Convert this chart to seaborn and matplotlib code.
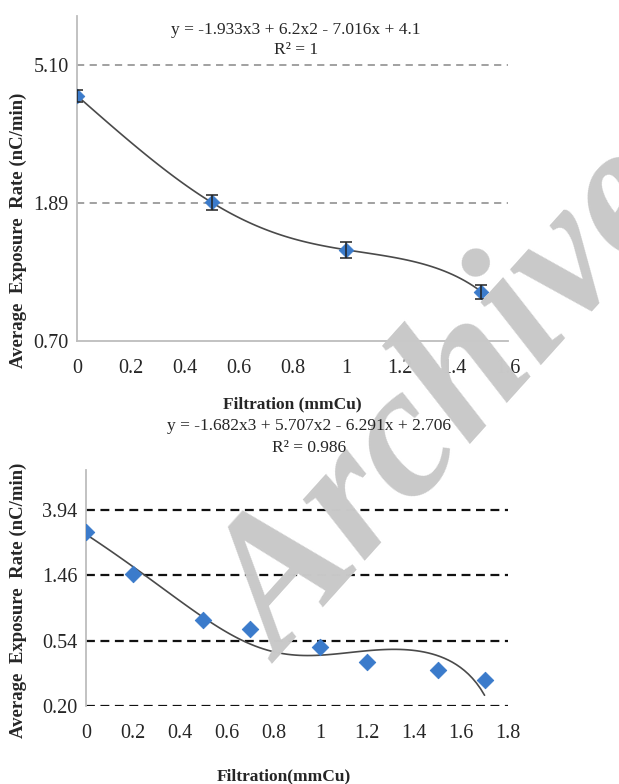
import numpy as np
import pandas as pd
import matplotlib
matplotlib.use("Agg")
import matplotlib.pyplot as plt
import seaborn as sns

# ---- data ----
top_x = [0.0, 0.5, 1.0, 1.5]
top_y = [4.10, 1.90, 1.35, 1.00]
top_err = [0.18, 0.10, 0.08, 0.05]
top_yticks = [0.70, 1.89, 5.10]
top_ytick_labels = ["0.70", "1.89", "5.10"]
top_xticks = [0, 0.2, 0.4, 0.6, 0.8, 1.0, 1.2, 1.4, 1.6]
top_xtick_labels = ["0", "0.2", "0.4", "0.6", "0.8", "1", "1.2", "1.4", "1.6"]
top_eq = "y = -1.933x3 + 6.2x2 - 7.016x + 4.1"
top_r2 = "R² = 1"

bot_x = [0.0, 0.2, 0.5, 0.7, 1.0, 1.2, 1.5, 1.7]
bot_y = [2.82, 1.50, 0.743, 0.645, 0.494, 0.393, 0.347, 0.297]
bot_yticks = [0.20, 0.54, 1.46, 3.94]
bot_ytick_labels = ["0.20", "0.54", "1.46", "3.94"]
bot_xticks = [0, 0.2, 0.4, 0.6, 0.8, 1.0, 1.2, 1.4, 1.6, 1.8]
bot_xtick_labels = ["0", "0.2", "0.4", "0.6", "0.8", "1", "1.2", "1.4", "1.6", "1.8"]
bot_eq = "y = -1.682x3 + 5.707x2 - 6.291x + 2.706"
bot_r2 = "R² = 0.986"

ylabel = "Average  Exposure  Rate (nC/min)"
top_xlabel = "Filtration (mmCu)"
bot_xlabel = "Filtration(mmCu)"
watermark = "Archive"

# ---- style ----
sns.set_style("white")
plt.rcParams["font.family"] = ["Liberation Serif", "DejaVu Serif"]

W, H = 619, 784
fig = plt.figure(figsize=(W / 100, H / 100), dpi=100)

def fx(px):
    return px / W

def fy(py):
    return 1 - py / H

blue = "#3B7BCB"
txtc = "#262626"

# watermark
fig.text(fx(282), fy(664), watermark, fontsize=136, fontweight="bold", style="italic",
         color="#C9C9C9", rotation=48, rotation_mode="anchor", ha="left", va="baseline",
         zorder=0)

# ---- top panel ----
ax1 = fig.add_axes([fx(77), fy(341), fx(508) - fx(77), fy(16) - fy(341)])
ax1.patch.set_alpha(0)
ax1.set_yscale("log")
ax1.set_xlim(0, 1.6)
ax1.set_ylim(0.70, 7.28)
ax1.yaxis.set_minor_locator(matplotlib.ticker.NullLocator())
ax1.set_yticks(top_yticks)
ax1.set_yticklabels(top_ytick_labels)
ax1.set_xticks(top_xticks)
ax1.set_xticklabels(top_xtick_labels)
for v in top_yticks[1:]:
    ax1.axhline(v, color="#9A9A9A", ls=(0, (4, 3)), lw=1.3, zorder=1)
sns.regplot(x=top_x, y=top_y, order=3, scatter=False, ci=None, ax=ax1,
            line_kws=dict(color="#4A4A4A", lw=1.2, zorder=2))
ax1.errorbar(top_x, top_y, yerr=top_err, fmt="none", ecolor="#222222", capsize=4,
             elinewidth=1.1, capthick=1.1, zorder=4)
sns.scatterplot(x=top_x, y=top_y, marker="D", s=55, color=blue, edgecolor=blue,
                ax=ax1, zorder=3)
for s in ["top", "right"]:
    ax1.spines[s].set_visible(False)
for s in ["left", "bottom"]:
    ax1.spines[s].set_color("#BDBDBD")
    ax1.spines[s].set_linewidth(1.3)
ax1.tick_params(axis="y", length=0, labelsize=14.5, colors=txtc, pad=6)
ax1.tick_params(axis="x", length=0, labelsize=14.5, colors=txtc, pad=13)
ax1.set_xlabel("")
ax1.set_ylabel("")

fig.text(fx(296), fy(30), top_eq, fontsize=12.5, ha="center", va="center", color=txtc)
fig.text(fx(296), fy(50), top_r2, fontsize=12.5, ha="center", va="center", color=txtc)
fig.text(fx(292), fy(404), top_xlabel, fontsize=12.5, fontweight="bold", ha="center",
         va="center", color=txtc)
fig.text(fx(18), fy(230), ylabel, fontsize=13.5, fontweight="bold", rotation=90,
         ha="center", va="center", color=txtc)

# ---- bottom panel ----
ax2 = fig.add_axes([fx(86), fy(706), fx(508) - fx(86), fy(470) - fy(706)])
ax2.patch.set_alpha(0)
ax2.set_yscale("log")
ax2.set_xlim(0, 1.8)
ax2.set_ylim(0.20, 7.25)
ax2.yaxis.set_minor_locator(matplotlib.ticker.NullLocator())
ax2.set_yticks(bot_yticks)
ax2.set_yticklabels(bot_ytick_labels)
ax2.set_xticks(bot_xticks)
ax2.set_xticklabels(bot_xtick_labels)
for v in bot_yticks:
    ax2.axhline(v, color="#111111", ls=(0, (4, 2.5)), lw=1.6, zorder=1)
sns.regplot(x=bot_x, y=bot_y, order=3, scatter=False, ci=None, ax=ax2,
            line_kws=dict(color="#4A4A4A", lw=1.2, zorder=2))
sns.scatterplot(x=bot_x, y=bot_y, marker="D", s=70, color=blue, edgecolor=blue,
                ax=ax2, zorder=3)
for s in ["top", "right", "bottom"]:
    ax2.spines[s].set_visible(False)
ax2.spines["left"].set_color("#BDBDBD")
ax2.spines["left"].set_linewidth(1.3)
ax2.tick_params(axis="y", length=0, labelsize=14.5, colors=txtc, pad=6)
ax2.tick_params(axis="x", length=0, labelsize=14.5, colors=txtc, pad=13)
ax2.set_xlabel("")
ax2.set_ylabel("")

fig.text(fx(309), fy(426), bot_eq, fontsize=12.5, ha="center", va="center", color=txtc)
fig.text(fx(309), fy(448), bot_r2, fontsize=12.5, ha="center", va="center", color=txtc)
fig.text(fx(284), fy(776), bot_xlabel, fontsize=12.5, fontweight="bold", ha="center",
         va="center", color=txtc)
fig.text(fx(18), fy(600), ylabel, fontsize=13.5, fontweight="bold", rotation=90,
         ha="center", va="center", color=txtc)

fig.savefig("out.png", dpi=100)
